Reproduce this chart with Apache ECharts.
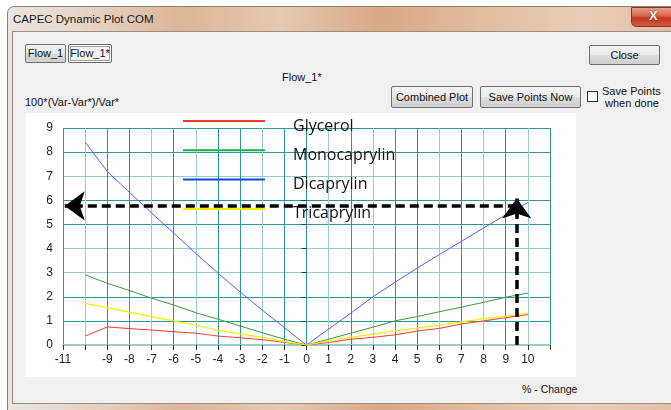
<!DOCTYPE html>
<html>
<head>
<meta charset="utf-8">
<script src="https://cdn.jsdelivr.net/npm/echarts@6/dist/echarts.min.js"></script>
<style>
  html, body { margin:0; padding:0; width:671px; height:410px; overflow:hidden; background:#ffffff; font-family: Arial, "Liberation Sans", sans-serif; }
  .abs { position:absolute; }
  #frame { left:7px; top:6px; width:720px; height:420px; border:1px solid #8c7f76; border-radius:7px 7px 0 0;
    background: linear-gradient(90deg, #ebe5df 0%, #e6d6c9 10%, #ddb597 24%, #e5c8b1 38%, #d9a885 52%, #e2bd9f 66%, #e8ccb7 80%, #e0b595 100%); }
  #title { left:13px; top:13px; font-size:11.5px; color:#1a1a1a; }
  #xbtn { left:631px; top:7px; width:46px; height:18px; border:1px solid #7a3a2a; border-radius:0 0 0 5px;
    background: linear-gradient(180deg, #e9a08e 0%, #d8604a 45%, #c2361f 55%, #d65a3a 100%); }
  #xbtn span { position:absolute; left:17px; top:0px; color:#fff; font-weight:bold; font-size:13px; text-shadow:0 0 2px #602010; }
  #client { left:12px; top:31px; width:700px; height:371px; background:#f0f0f0; border:1px solid #9b8e85; }
  .btn { position:absolute; box-sizing:border-box; border:1px solid #707070; border-radius:2px;
    background: linear-gradient(180deg, #f2f2f2 0%, #ebebeb 48%, #dddddd 52%, #cfcfcf 100%);
    font-size:11px; color:#111; text-align:center; }
  .sel { border:1px solid #6a6a6a; box-shadow: inset 0 0 0 1px #fff, inset 0 0 0 2px #a0a0a0; background:#f4f4f4; }
  .lbl { position:absolute; font-size:11px; color:#111; white-space:nowrap; }
  #chk { left:587px; top:91px; width:11px; height:11px; box-sizing:border-box; border:1px solid #333; background:#fff; }
  #chart { position:absolute; left:25px; top:113px; width:551px; height:264px; background:#ffffff; }
</style>
</head>
<body>
<div id="frame" class="abs"></div>
<div id="title" class="abs">CAPEC Dynamic Plot COM</div>
<div id="xbtn" class="abs"><span>X</span></div>
<div id="client" class="abs"></div>

<div class="btn" style="left:25px;top:44px;width:41px;height:19px;line-height:17px;">Flow_1</div>
<div class="btn sel" style="left:68px;top:44px;width:44px;height:19px;line-height:17px;">Flow_1*</div>
<div class="btn" style="left:589px;top:45px;width:71px;height:20px;line-height:18px;">Close</div>
<div class="lbl" style="left:282px;top:71px;">Flow_1*</div>
<div class="btn" style="left:391px;top:86px;width:82px;height:22px;line-height:20px;">Combined Plot</div>
<div class="btn" style="left:480px;top:86px;width:101px;height:22px;line-height:20px;">Save Points Now</div>
<div id="chk" class="abs"></div>
<div class="lbl" style="left:602px;top:85px;line-height:12px;">Save Points<br>&nbsp;when done</div>
<div class="lbl" style="left:25px;top:96px;">100*(Var-Var*)/Var*</div>
<div class="lbl" style="left:522px;top:383px;font-size:10.5px;">% - Change</div>

<div id="chart"></div>

<script>
// ---- data ----
const xValues      = [-10,-9,-8,-7,-6,-5,-4,-3,-2,-1,0,1,2,3,4,5,6,7,8,9,10];
const glycerol     = [0.37,0.75,0.68,0.62,0.55,0.49,0.37,0.30,0.22,0.11,0,0.10,0.24,0.32,0.42,0.58,0.69,0.87,1.00,1.13,1.26];
const monocaprylin = [2.91,2.56,2.26,1.94,1.66,1.34,1.07,0.79,0.51,0.24,0,0.24,0.49,0.74,1.00,1.18,1.38,1.57,1.77,1.98,2.15];
const dicaprylin   = [8.42,7.20,6.33,5.48,4.64,3.80,2.98,2.20,1.45,0.72,0,0.66,1.32,2.00,2.60,3.19,3.75,4.30,4.85,5.40,5.91];
const tricaprylin  = [1.73,1.55,1.36,1.18,1.00,0.82,0.62,0.46,0.32,0.14,0,0.17,0.32,0.45,0.58,0.70,0.83,0.96,1.08,1.19,1.32];
const seriesNames  = ['Glycerol','Monocaprylin','Dicaprylin','Tricaprylin'];
// annotation arrows (horizontal at y = arrowLevel, vertical at x = arrowX)
const arrowLevel = [5.77];
const arrowX     = [9.5];
const arrowEnds  = [-10.92, 6.08];   // left tip x, top tip y
// axis ticks
const xTickMin = -11, xTickMax = 11, yTickMin = 0, yTickMax = 9;
const xHiddenLabels = [-10, 11];

function pairs(ys){ return xValues.map((x,i)=>[x, ys[i]]); }

const DARK = '#2f9696', LIGHT = '#97cccc';
const xLight = [-10,-7,-5,-2,1,3,6,8,10];
const yLight = [0,3,4,7];
const xColors = []; for (let v = xTickMin; v <= xTickMax; v++) xColors.push(xLight.includes(v) ? LIGHT : DARK);
const yColors = []; for (let v = yTickMin; v <= yTickMax; v++) yColors.push(yLight.includes(v) ? LIGHT : DARK);

// legend icon: a 2px line at the top of a 82x12 box (so the label sits a little lower, as in the reference)
const LEG_ICON = 'path://M0,0H82V2H0ZM0,11.98H0.02V12H0Z';
const legendColors = ['#ff3b1f','#12b04e','#1843d0','#f5ee00'];

const chart = echarts.init(document.getElementById('chart'), null, {renderer:'canvas'});
const lblFont = {color:'#222', fontSize:12, fontFamily:'Arial, Liberation Sans, sans-serif'};
chart.setOption({
  animation:false,
  backgroundColor:'#ffffff',
  grid:{left:38, top:15, width:487, height:217},
  legend:{
    orient:'vertical', left:158, top:5, padding:0, itemGap:13.3,
    itemWidth:82, itemHeight:12, symbolKeepAspect:false, selectedMode:false,
    textStyle:{color:'#111', fontSize:16, fontFamily:'Open Sans', lineHeight:14, padding:[0,0,0,23]},
    data: seriesNames.map((n,i)=>({name:n, icon:LEG_ICON, itemStyle:{color:legendColors[i], borderWidth:0}}))
  },
  xAxis:{
    type:'value', min:xTickMin, max:xTickMax, interval:1,
    axisLine:{show:true, lineStyle:{color:LIGHT, width:2}},
    axisTick:{show:true, length:5, lineStyle:{color:'#333'}},
    axisLabel:{...lblFont, margin:9, formatter:v => xHiddenLabels.includes(v) ? '' : String(v)},
    splitLine:{show:true, lineStyle:{color:xColors, width:1}}
  },
  yAxis:{
    type:'value', min:yTickMin, max:yTickMax, interval:1,
    axisLine:{show:true, lineStyle:{color:DARK, width:1}},
    axisTick:{show:true, length:5, lineStyle:{color:'#333'}},
    axisLabel:{...lblFont, margin:10},
    splitLine:{show:true, lineStyle:{color:yColors, width:1}}
  },
  series:[
    {name:seriesNames[0], type:'line', symbol:'none', data:pairs(glycerol), lineStyle:{color:'#ff3a3a', width:1}, itemStyle:{color:'#ff3a3a'}},
    {name:seriesNames[1], type:'line', symbol:'none', data:pairs(monocaprylin), lineStyle:{color:'#3c9a3c', width:1}, itemStyle:{color:'#3c9a3c'}},
    {name:seriesNames[2], type:'line', symbol:'none', data:pairs(dicaprylin), lineStyle:{color:'#5a5aff', width:1}, itemStyle:{color:'#5a5aff'}},
    {name:seriesNames[3], type:'line', symbol:'none', data:pairs(tricaprylin), lineStyle:{color:'#f2f200', width:1.2}, itemStyle:{color:'#f2f200'},
     markLine:{
       silent:true, symbol:['none','arrow'], symbolSize:[22,20],
       label:{show:false},
       lineStyle:{color:'#000', width:3.5, type:[9,5], opacity:1},
       emphasis:{disabled:true},
       data:[
         [{coord:[arrowX[0], arrowLevel[0]]}, {coord:[arrowEnds[0], arrowLevel[0]]}],
         [{coord:[arrowX[0], yTickMin]}, {coord:[arrowX[0], arrowEnds[1]]}]
       ]
     }}
  ]
});
</script>
</body>
</html>
